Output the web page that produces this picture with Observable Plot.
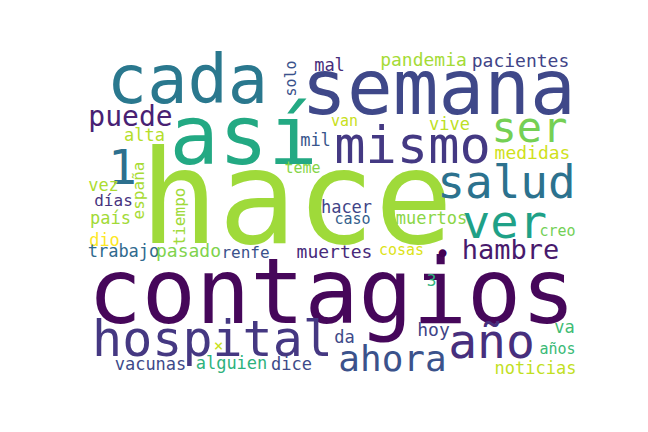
<!DOCTYPE html>
<html>
<head>
<meta charset="utf-8">
<script src="https://cdn.jsdelivr.net/npm/d3@7"></script>
<script src="https://cdn.jsdelivr.net/npm/@observablehq/plot@0.6"></script>
<style>
  html, body { margin: 0; padding: 0; background: #ffffff; }
</style>
</head>
<body>
<div id="chart"></div>
<script>
// Word-cloud content: each word with its weight (rendered font size),
// its placement in the cloud layout, rotation and viridis colour.
const words   = ["hace","contagios","semana","cada","así","mismo","ser","salud","ver","puede","1",
                 "hospital","ahora","año","hambre","pandemia","pacientes","mal","solo","alta","mil",
                 "van","vive","medidas","teme","vez","días","españa","país","tiempo","hacer","caso",
                 "muertos","creo","dio","trabajo","pasado","renfe","muertes","cosas","•","3","da",
                 "hoy","va","años","noticias","vacunas","alguien","dice","×"];
const weights = [130,90,76,67,82,52,42,46,47,28,48,
                 50,36,48,27,18,18,17,15,17,17,
                 15,17,18,15,17,16,16,17,16,17,15,
                 17,15,17,17,18,16,18,15,27,16,17,
                 18,17,15,17,17,17,17,16];
const layoutX = [296,331,438,187,243,412,529,506,504,130,122,
                 212,392,491,510,423,520,329,295,144,315,
                 344,449,532,302,103,113,143,110,184,346,352,
                 431,557,104,123,188,245,334,401,442,431,344,
                 433,564,557,535,150,231,291,218];
const layoutY = [242,322,113,102,163,162,141,197,237,125,183,
                 355,370,357,258,65,66,70,78,140,145,
                 125,129,158,172,190,205,190,223,216,212,223,
                 223,235,245,256,256,257,257,254,262,285,342,
                 335,332,353,373,369,368,369,350];
const rotations = words.map(w => (w === "solo" || w === "españa" || w === "tiempo") ? -90 : 0);
const colors  = ["#9fda3a","#46075a","#3f4889","#2a788e","#23a983","#443983","#75d054","#2c728e","#1fa187","#482173","#2d708e",
                 "#453882","#3b528b","#472f7d","#481a6c","#a5db36","#414487","#472d7b","#3b528b","#b5de2b","#39568c",
                 "#c8e020","#bddf26","#d0e11c","#86d549","#addc30","#46337e","#a8db34","#a2da37","#a0da39","#414487","#355f8d",
                 "#8bd646","#73d056","#fde725","#306a8e","#7fd34e","#3b528b","#472a7a","#dde318","#440154","#2eb37c","#3e4a89",
                 "#414487","#3fbc73","#3aba76","#c2df23","#3e4a89","#2db27d","#3e4a89","#c8e020"];

const data = words.map((w, i) => ({
  word: w, size: weights[i], x: layoutX[i], y: layoutY[i], rotate: rotations[i], color: colors[i]
}));

const chart = Plot.plot({
  width: 648,
  height: 432,
  margin: 0,
  x: {domain: [0, 648], range: [0, 648], axis: null},
  y: {domain: [0, 432], range: [0, 432], axis: null},
  style: {background: "#ffffff"},
  marks: [
    Plot.text(data, {
      x: "x",
      y: "y",
      text: "word",
      fontSize: "size",
      rotate: "rotate",
      fill: "color",
      textAnchor: "middle",
      lineAnchor: "bottom",
      fontFamily: "DejaVu Sans Mono"
    })
  ]
});
document.getElementById("chart").appendChild(chart);
</script>
</body>
</html>
